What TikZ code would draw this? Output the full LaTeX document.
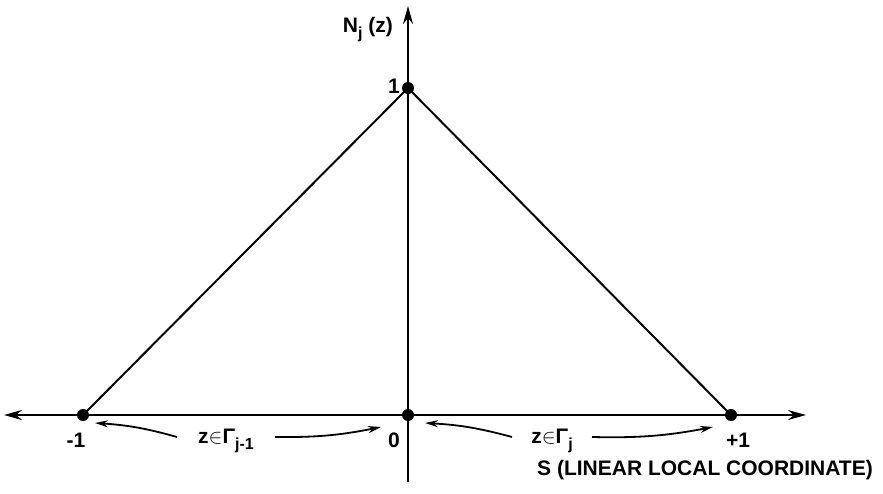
\documentclass[tikz,border=0pt]{standalone}
\usepackage{fontspec}
\setmainfont{Liberation Sans}
\usetikzlibrary{arrows.meta}
\newcommand{\mysub}[1]{\raisebox{-6pt}{\fontsize{16}{16}\selectfont #1}}
\begin{document}
\begin{tikzpicture}[x=1pt,y=-1pt,
  axis/.style={line width=2pt,-{Stealth[length=18pt,width=10pt]}},
  edge/.style={line width=2pt},
  dot/.style={circle,fill=black,inner sep=0pt,minimum size=12pt},
  lbl/.style={font=\fontsize{21}{24}\selectfont\bfseries,inner sep=1pt},
  curv/.style={line width=1.8pt,-{Stealth[length=13pt,width=7pt]}}]
\useasboundingbox (0,0) rectangle (883,493);
% points
\node[dot] (m) at (83,415) {};
\node[dot] (o) at (408,415) {};
\node[dot] (p) at (731,415) {};
\node[dot] (t) at (408,88) {};
\coordinate (xl) at (4,415);
\coordinate (xr) at (806,415);
\coordinate (yt) at (408,6);
\coordinate (yb) at (408,482);
% axes
\draw[axis] (o.center) -- (xl);
\draw[axis] (o.center) -- (xr);
\draw[axis] (yb) -- (yt);
% triangle
\draw[edge] (m.center) -- (t.center) -- (p.center);
% labels
\node[lbl,anchor=east] (ny) at (394,30) {N\mysub{j} (z)};
\node[lbl,anchor=east] (one) at (401,86) {1};
\node[lbl] (lm) at (76,440) {-1};
\node[lbl] (lo) at (394,440) {0};
\node[lbl] (lp) at (738,440) {+1};
\node[lbl] (gl) at (226,441) {z$\in$Γ\mysub{j-1}};
\node[lbl] (gr) at (552,441) {z$\in$Γ\mysub{j}};
\node[lbl,anchor=west] (s) at (536,470) {S (LINEAR LOCAL COORDINATE)};
% curved arrows
\coordinate (a1) at (177,437);
\coordinate (b1) at (95,423);
\coordinate (a2) at (275,437);
\coordinate (b2) at (381,427);
\coordinate (a3) at (512,437);
\coordinate (b3) at (425,423);
\coordinate (a4) at (592,437);
\coordinate (b4) at (713,427);
\draw[curv] (a1) to[bend right=6] (b1);
\draw[curv] (a2) to[bend right=6] (b2);
\draw[curv] (a3) to[bend right=6] (b3);
\draw[curv] (a4) to[bend right=6] (b4);
\end{tikzpicture}
\end{document}
